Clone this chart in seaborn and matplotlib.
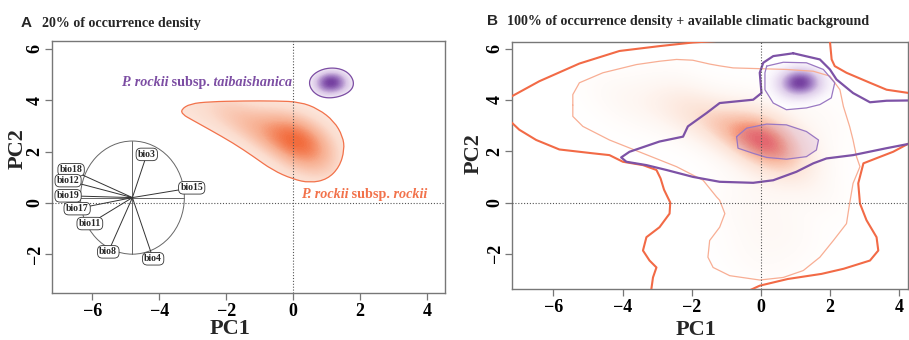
import numpy as np
import pandas as pd
import seaborn as sns
import matplotlib
matplotlib.use("Agg")
import matplotlib.pyplot as plt
from matplotlib.colors import LinearSegmentedColormap
from matplotlib.patches import Ellipse, PathPatch, Polygon
from matplotlib.path import Path

# ---------------- data ----------------
# occurrence points (PC space) used for the density surfaces
rockii_pc1 = [0.0, 0.2, -0.2, 0.4, 0.1, -0.3, 0.5, 0.3, -0.1, 0.6, 0.8, 0.2, -0.5, 0.9,
              0.0, -0.6, 0.5, 1.0, -0.9, -1.3, -1.7, -2.1, -2.5, -2.9, -1.1, -1.5,
              -3.6, -4.3, -2.2, 0.4, -0.2, 0.9, -0.6, 1.6, 1.8, -0.1]
rockii_pc2 = [2.5, 2.7, 2.4, 2.3, 2.9, 2.8, 2.6, 2.0, 2.1, 1.9, 2.4, 1.6, 2.6, 2.9,
              3.2, 2.2, 1.4, 2.0, 3.0, 3.2, 3.4, 3.5, 3.6, 3.7, 2.7, 3.0,
              3.9, 4.0, 4.3, -1.6, -2.3, -0.9, -0.4, 0.4, 3.4, 0.5]
tai_pc1 = [1.15, 0.85, 1.45, 0.95, 1.35, 1.10, 0.75, 1.55, 1.05, 1.25, 0.90, 1.40, 1.20, 1.00]
tai_pc2 = [4.65, 4.60, 4.70, 4.90, 4.40, 5.00, 4.75, 4.55, 4.30, 4.85, 4.40, 4.95, 4.60, 4.70]

# panel A: 20% contour of P. rockii subsp. rockii
rockii20_pc1 = [-3.35, -3.08, -2.49, -1.49, -0.50, 0.20, 0.75, 1.22, 1.48, 1.53, 1.38,
                1.02, 0.50, -0.02, -0.62, -1.19, -1.79, -2.49, -3.03, -3.30]
rockii20_pc2 = [3.63, 3.86, 3.94, 3.97, 3.97, 3.93, 3.66, 3.18, 2.59, 2.07, 1.40,
                0.92, 0.78, 0.93, 1.28, 1.81, 2.33, 2.85, 3.24, 3.44]

# correlation circle
circle_center = (-4.80, 0.21)
circle_size = (3.10, 4.40)
bio_names = ['bio3', 'bio15', 'bio18', 'bio12', 'bio19', 'bio17', 'bio11', 'bio8', 'bio4']
bio_pc1 = [-4.37, -3.03, -6.63, -6.72, -6.72, -6.45, -6.07, -5.52, -4.18]
bio_pc2 = [1.89, 0.59, 1.29, 0.87, 0.28, -0.22, -0.80, -1.90, -2.17]

# panel B: climatic background of rockii (thick orange), four pieces
bgR_a_pc1 = [-7.3, -7.21, -6.41, -5.25, -4.09, -2.93, -1.97, -1.28, -1.0]
bgR_a_pc2 = [4.09, 4.14, 4.73, 5.42, 5.91, 6.10, 6.24, 6.30, 6.4]
bgR_b_pc1 = [2.0, 2.0, 2.05, 2.14, 2.48, 3.16, 3.64, 4.29, 4.4]
bgR_b_pc2 = [6.4, 6.3, 5.58, 5.32, 5.06, 4.67, 4.40, 4.27, 4.25]
bgR_c_pc1 = [-7.3, -7.21, -6.99, -6.50, -5.83, -4.86, -4.38, -3.99, -3.41, -3.02, -2.90,
             -2.80, -2.62, -2.64, -2.93, -3.31, -3.41, -3.22, -3.02, -3.12, -3.17, -3.18]
bgR_c_pc2 = [3.2, 3.12, 2.84, 2.44, 2.07, 1.92, 1.85, 1.59, 1.46, 1.27, 0.94,
             0.50, 0.0, -0.43, -0.96, -1.35, -1.87, -2.26, -2.53, -2.92, -3.40, -3.6]
bgR_d_pc1 = [-0.40, -0.32, -0.03, 0.78, 1.76, 2.40, 3.16, 3.40, 3.35, 3.06, 2.87, 2.82,
             2.97, 3.35, 3.83, 4.29, 4.4]
bgR_d_pc2 = [-3.6, -3.42, -3.24, -2.98, -2.78, -2.58, -2.26, -1.87, -1.35, -0.69, -0.04,
             0.75, 1.53, 1.73, 1.98, 2.31, 2.36]

# 100% occurrence contour of rockii (thin salmon)
occR_pc1 = [-5.44, -5.44, -5.25, -4.57, -3.60, -2.93, -2.44, -1.97, -1.48, -1.19, -0.80,
            -0.03, 0.74, 1.52, 2.0, 2.29, 2.39, 2.57, 2.67, 2.77, 2.87, 2.67, 2.57, 2.48,
            2.10, 1.71, 1.23, 0.65, -0.03, -0.90, -1.38, -1.53, -1.48, -1.19, -1.04,
            -1.19, -1.28, -1.67, -2.44, -3.41, -4.38, -5.15, -5.44, -5.44]
occR_pc2 = [3.8, 4.21, 4.67, 5.06, 5.38, 5.51, 5.58, 5.55, 5.40, 5.33, 5.25,
            5.22, 5.19, 5.12, 4.93, 4.40, 3.75, 2.97, 2.44, 1.79, 1.40, 0.75, -0.04, -0.82,
            -1.48, -2.13, -2.65, -2.92, -3.02, -2.85, -2.53, -2.13, -1.48, -0.96, -0.43,
            0.09, 0.22, 0.87, 1.40, 1.92, 2.44, 2.97, 3.36, 3.8]

# climatic background of taibaishanica (thick purple)
bgT_pc1 = [0.94, 1.71, 2.0, 2.19, 2.67, 3.16, 3.64, 4.29, 4.5, 4.5, 4.29, 3.64, 2.67,
           1.90, 1.52, 1.03, 0.36, -0.22, -1.19, -1.96, -2.73, -3.31, -3.89, -4.04,
           -3.80, -2.93, -2.25, -2.11, -1.57, -1.19, -0.22, 0.02, -0.03, 0.07, 0.36, 0.94]
bgT_pc2 = [5.82, 5.58, 5.19, 4.80, 4.27, 3.91, 3.97, 3.98, 3.98, 2.25, 2.29, 2.12, 1.85,
           1.72, 1.53, 1.20, 0.87, 0.77, 0.81, 1.0, 1.27, 1.46, 1.59, 1.76,
           1.98, 2.38, 2.57, 2.97, 3.49, 3.88, 4.01, 4.27, 5.06, 5.45, 5.71, 5.82]

# 100% occurrence contours of taibaishanica (thin purple)
occT1_pc1 = [0.17, 0.65, 1.32, 1.81, 2.14, 2.04, 1.71, 1.32, 0.74, 0.36, 0.12, 0.12, 0.17]
occT1_pc2 = [5.32, 5.47, 5.45, 5.19, 4.67, 4.08, 3.82, 3.69, 3.62, 3.88, 4.40, 5.06, 5.32]
occT2_pc1 = [-0.70, -0.41, 0.17, 0.74, 1.32, 1.67, 1.61, 1.32, 0.74, 0.17, -0.22, -0.66, -0.70]
occT2_pc2 = [2.57, 2.90, 3.06, 3.03, 2.77, 2.44, 2.05, 1.79, 1.69, 1.76, 1.92, 2.12, 2.57]

x_ticks = [-6, -4, -2, 0, 2, 4]
y_ticks = [-2, 0, 2, 4, 6]

# ---------------- styling ----------------
ORANGE = '#F2724B'
PURPLE = '#7C4DA3'
sns.set_theme(style="ticks")
plt.rcParams['font.family'] = ['Liberation Serif', 'DejaVu Serif']
plt.rcParams['font.weight'] = 'bold'
plt.rcParams['axes.unicode_minus'] = True

fig = plt.figure(figsize=(9.09, 3.4), dpi=100)
axA = fig.add_axes([52 / 909, 47 / 340, 393 / 909, 252 / 340])
axB = fig.add_axes([512 / 909, 51 / 340, 396 / 909, 247 / 340])


def smooth_closed_path(xs, ys):
    P = np.column_stack([xs, ys])
    M = (P + np.roll(P, -1, axis=0)) / 2
    verts = [M[-1]]
    codes = [Path.MOVETO]
    for i in range(len(P)):
        verts += [P[i], M[i]]
        codes += [Path.CURVE3, Path.CURVE3]
    return Path(verts, codes)


def kde_clipped(ax, x, y, cmap, clip, bw, thresh=0.0, levels=100):
    n0 = len(ax.collections)
    sns.kdeplot(x=x, y=y, fill=True, thresh=thresh, levels=levels, cmap=cmap,
                bw_adjust=bw, ax=ax, zorder=1, antialiased=False)
    if clip is not None:
        for c in ax.collections[n0:]:
            c.set_clip_path(clip)


def style_axes(ax, xlim, ylim, xl, yl):
    ax.set_xlim(*xlim)
    ax.set_ylim(*ylim)
    ax.set_xticks(x_ticks)
    ax.set_yticks(y_ticks)
    for s in ax.spines.values():
        s.set_color('#777777')
        s.set_linewidth(1.0)
        s.set_visible(True)
    ax.tick_params(direction='out', length=5, width=0.9, color='#777777',
                   labelsize=13, pad=2, labelcolor='black')
    ax.tick_params(axis='y', labelrotation=90, pad=1)
    for lab in ax.get_yticklabels():
        lab.set_va('center')
    ax.set_xlabel('PC1', fontsize=16, fontweight='bold')
    ax.set_ylabel('PC2', fontsize=16, fontweight='bold')
    ax.xaxis.set_label_coords(*xl)
    ax.yaxis.set_label_coords(*yl)
    ax.xaxis.label.set_va('center')
    ax.yaxis.label.set_va('center')
    ax.axvline(0, color='#555555', ls=(0, (1, 1.6)), lw=0.8, zorder=5)
    ax.axhline(0, color='#555555', ls=(0, (1, 1.6)), lw=0.8, zorder=5)


def rich_text(ax, x, y, parts, color, size):
    t = None
    for s, style in parts:
        if t is None:
            t = ax.text(x, y, s, color=color, fontsize=size, fontstyle=style,
                        fontweight='bold', va='center', ha='left', zorder=6)
        else:
            t = ax.annotate(s, xy=(1, 0.5), xycoords=t, va='center', ha='left',
                            color=color, fontsize=size, fontstyle=style,
                            fontweight='bold', zorder=6)


# ---------------- Panel A ----------------
cmapA_or = LinearSegmentedColormap.from_list(
    'aor', [(0, '#FDF0EA'), (0.35, '#FBDCCE'), (0.7, '#F7AE90'), (1, '#F26B3C')])
cmapA_pu = LinearSegmentedColormap.from_list(
    'apu', [(0, '#F3ECF7'), (0.4, '#D8C4E5'), (0.75, '#A07AC1'), (1, '#7540A0')])

tear = PathPatch(smooth_closed_path(rockii20_pc1, rockii20_pc2), facecolor='none',
                 edgecolor=ORANGE, lw=0.9, zorder=3)
axA.add_patch(tear)
kde_clipped(axA, rockii_pc1, rockii_pc2, cmapA_or, tear, bw=0.9)

sns.kdeplot(x=tai_pc1, y=tai_pc2, fill=True, thresh=0.2, levels=60, cmap=cmapA_pu,
            bw_adjust=1.8, ax=axA, zorder=2, antialiased=False)
sns.kdeplot(x=tai_pc1, y=tai_pc2, levels=[0.2], color=PURPLE, linewidths=0.9,
            bw_adjust=1.8, ax=axA, zorder=3)

# correlation circle
axA.add_patch(Ellipse(circle_center, circle_size[0], circle_size[1], facecolor='none',
                      edgecolor='#666666', lw=0.7, zorder=4))
cx, cy = circle_center
axA.plot([cx - circle_size[0] / 2, cx + circle_size[0] / 2], [cy, cy], color='#666666', lw=0.7, zorder=4)
axA.plot([cx, cx], [cy - circle_size[1] / 2, cy + circle_size[1] / 2], color='#666666', lw=0.7, zorder=4)
for nm, bx, by in zip(bio_names, bio_pc1, bio_pc2):
    axA.plot([cx, bx], [cy, by], color='#333333', lw=0.7, zorder=6)
    axA.text(bx, by, nm, fontsize=7, fontweight='bold', ha='center', va='center', zorder=7,
             bbox=dict(boxstyle='round,pad=0.18,rounding_size=0.5', fc='white', ec='#333333', lw=0.6))

rich_text(axA, -5.15, 4.69, [('P. rockii', 'italic'), (' subsp.', 'normal'),
                             (' taibaishanica', 'italic')], PURPLE, 10.2)
rich_text(axA, 0.22, 0.32, [('P. rockii', 'italic'), (' subsp.', 'normal'),
                            (' rockii', 'italic')], ORANGE, 10.2)

style_axes(axA, (-7.2, 4.53), (-3.5, 6.3), (0.453, -0.143), (-0.0865, 0.575))

# ---------------- Panel B ----------------
cmapB_or = LinearSegmentedColormap.from_list(
    'bor', [(0, '#FFFFFF'), (0.2, '#FEF6F2'), (0.5, '#FCE3D7'), (0.75, '#F8BBA3'),
            (0.9, '#F38A6E'), (1, '#EE5C55')])
cmapB_pu = LinearSegmentedColormap.from_list(
    'bpu', [(0, '#FFFFFF'), (0.15, '#F5EFF9'), (0.45, '#DDCCE9'), (0.75, '#A683C7'),
            (1, '#7540A0')])

occR_patch = Polygon(np.column_stack([occR_pc1, occR_pc2]), closed=True, fc='none', ec='none')
axB.add_patch(occR_patch)
kde_clipped(axB, rockii_pc1, rockii_pc2, cmapB_or, occR_patch, bw=1.0, thresh=0.0)

occT1_patch = Polygon(np.column_stack([occT1_pc1, occT1_pc2]), closed=True, fc='none', ec='none')
axB.add_patch(occT1_patch)
kde_clipped(axB, tai_pc1, tai_pc2, cmapB_pu, occT1_patch, bw=2.2, thresh=0.0)

axB.fill(occT2_pc1, occT2_pc2, color='#C08FD0', alpha=0.22, lw=0, zorder=2)

line_specs = [
    (occR_pc1, occR_pc2, '#F8AE94', 0.9),
    (occT1_pc1, occT1_pc2, '#9A78C2', 0.9),
    (occT2_pc1, occT2_pc2, '#9A78C2', 0.9),
    (bgR_a_pc1, bgR_a_pc2, '#F26A46', 1.5),
    (bgR_b_pc1, bgR_b_pc2, '#F26A46', 1.5),
    (bgR_c_pc1, bgR_c_pc2, '#F26A46', 1.5),
    (bgR_d_pc1, bgR_d_pc2, '#F26A46', 1.5),
    (bgT_pc1, bgT_pc2, '#7D52A6', 1.6),
]
for xs, ys, col, lw in line_specs:
    df = pd.DataFrame({'PC1': xs, 'PC2': ys})
    sns.lineplot(data=df, x='PC1', y='PC2', sort=False, estimator=None, color=col,
                 lw=lw, ax=axB, zorder=4)

style_axes(axB, (-7.2, 4.26), (-3.37, 6.26), (0.466, -0.166), (-0.098, 0.549))

# ---------------- panel titles ----------------
fig.text(20.5 / 909, 1 - 23 / 340, 'A', fontsize=11, fontweight='bold',
         family=['Liberation Sans', 'DejaVu Sans'], ha='left', va='center')
fig.text(41.7 / 909, 1 - 23 / 340, '20% of occurrence density', fontsize=10.1,
         fontweight='bold', ha='left', va='center')
fig.text(486.5 / 909, 1 - 21 / 340, 'B', fontsize=11, fontweight='bold',
         family=['Liberation Sans', 'DejaVu Sans'], ha='left', va='center')
fig.text(506.7 / 909, 1 - 21 / 340, '100% of occurrence density + available climatic background',
         fontsize=10.1, fontweight='bold', ha='left', va='center')

fig.savefig('out.png', dpi=100)
